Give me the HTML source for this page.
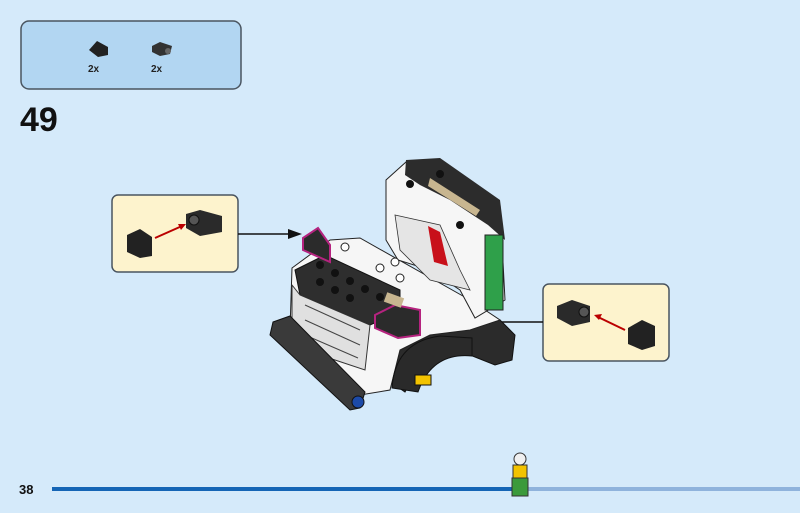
<!DOCTYPE html>
<html><head><style>
html,body{margin:0;padding:0;width:800px;height:513px;overflow:hidden;background:#d5eafa;font-family:"Liberation Sans",sans-serif}
svg{display:block}
</style></head><body>
<svg width="800" height="513" viewBox="0 0 800 513" xmlns="http://www.w3.org/2000/svg">
<rect width="800" height="513" fill="#d5eafa"/>
<rect x="21" y="21" width="220" height="68" rx="8" fill="#b2d6f2" stroke="#4a5560" stroke-width="1.5"/>
<polygon points="89,50 97,41 108,47 108,55 98,57" fill="#222"/>
<polygon points="152,46 160,42 172,46 170,54 160,56 152,52" fill="#333"/>
<circle cx="168" cy="51" r="3" fill="#666"/>
<text x="88" y="72" font-size="10" font-weight="bold" fill="#222">2x</text>
<text x="151" y="72" font-size="10" font-weight="bold" fill="#222">2x</text>
<text x="20" y="131" font-size="34" font-weight="bold" fill="#111">49</text>

<rect x="112" y="195" width="126" height="77" rx="6" fill="#fdf3cd" stroke="#4a5560" stroke-width="1.5"/>
<polygon points="127,235 140,229 152,237 152,256 140,258 127,252" fill="#222"/>
<polygon points="186,214 200,210 222,216 222,232 200,236 186,228" fill="#2a2a2a"/>
<circle cx="194" cy="220" r="5" fill="#555" stroke="#111"/>
<line x1="155" y1="238" x2="182" y2="226" stroke="#b00" stroke-width="2"/>
<polygon points="186,224 178,224 181,230" fill="#b00"/>
<line x1="238" y1="234" x2="292" y2="234" stroke="#111" stroke-width="1.5"/>
<polygon points="302,234 288,229 288,239" fill="#111"/>

<rect x="543" y="284" width="126" height="77" rx="6" fill="#fdf3cd" stroke="#4a5560" stroke-width="1.5"/>
<polygon points="557,306 572,300 590,306 590,322 572,326 557,318" fill="#2a2a2a"/>
<circle cx="584" cy="312" r="5" fill="#555" stroke="#111"/>
<polygon points="628,328 642,320 655,326 655,346 642,350 628,344" fill="#222"/>
<line x1="625" y1="330" x2="598" y2="317" stroke="#b00" stroke-width="2"/>
<polygon points="594,315 602,314 599,320" fill="#b00"/>
<line x1="543" y1="322" x2="440" y2="322" stroke="#111" stroke-width="1.5"/>
<polygon points="430,322 444,317 444,327" fill="#111"/>

<polygon points="380,330 470,320 500,320 515,335 512,360 495,365 470,355 440,350 420,365 405,392 395,385 385,360" fill="#2b2b2b" stroke="#111"/>
<polygon points="292,268 330,240 360,238 470,300 500,320 470,330 430,335 400,350 390,390 360,395 320,370 290,330" fill="#f6f6f6" stroke="#222"/>
<polygon points="386,180 406,162 440,160 500,205 505,300 475,318 460,290 430,270 398,260 386,240" fill="#f6f6f6" stroke="#222"/>
<polygon points="406,160 440,158 500,200 505,240 488,225 450,200 420,185 405,175" fill="#2c2c2c"/>
<polygon points="430,178 480,210 476,216 428,186" fill="#c8b690"/>
<polygon points="395,215 440,225 460,270 470,290 430,280 400,250" fill="#e5e5e5" stroke="#333" stroke-width="0.8"/>
<polygon points="428,226 440,232 448,266 434,262" fill="#c8101a"/>
<rect x="485" y="235" width="18" height="75" fill="#2fa04a" stroke="#222"/>
<polygon points="295,270 325,255 400,290 400,312 370,325 300,295" fill="#2e2e2e" stroke="#111"/>
<polygon points="292,285 300,295 370,325 365,370 320,355 292,330" fill="#e0e0e0" stroke="#333"/>
<g stroke="#444" stroke-width="1">
<line x1="305" y1="305" x2="360" y2="330"/><line x1="305" y1="320" x2="360" y2="345"/><line x1="305" y1="335" x2="358" y2="358"/>
</g>
<polygon points="273,322 290,316 365,392 360,408 350,410 270,335" fill="#3a3a3a" stroke="#111"/>
<circle cx="358" cy="402" r="6" fill="#1c4aa8" stroke="#111"/>
<path d="M392,388 Q395,342 440,336 L472,338 L472,356 Q432,352 418,392 Z" fill="#2a2a2a" stroke="#111"/>
<rect x="415" y="375" width="16" height="10" fill="#f3c300" stroke="#111"/>
<polygon points="303,238 318,228 330,245 330,262 303,250" fill="#2b2b2b" stroke="#b5237f" stroke-width="2"/>
<polygon points="375,315 395,305 420,310 420,335 398,338 375,328" fill="#2b2b2b" stroke="#b5237f" stroke-width="2"/>
<rect x="385" y="295" width="18" height="10" fill="#c8b690" transform="rotate(20 394 300)"/>
<g fill="#111">
<circle cx="320" cy="265" r="4"/><circle cx="335" cy="273" r="4"/><circle cx="350" cy="281" r="4"/><circle cx="365" cy="289" r="4"/><circle cx="380" cy="297" r="4"/>
<circle cx="320" cy="282" r="4"/><circle cx="335" cy="290" r="4"/><circle cx="350" cy="298" r="4"/>
<circle cx="410" cy="184" r="4"/><circle cx="440" cy="174" r="4"/><circle cx="460" cy="225" r="4"/>
</g>
<g fill="#fff" stroke="#222">
<circle cx="345" cy="247" r="4"/><circle cx="380" cy="268" r="4"/><circle cx="395" cy="262" r="4"/><circle cx="400" cy="278" r="4"/>
</g>

<text x="19" y="494" font-size="13" font-weight="bold" fill="#111">38</text>
<line x1="52" y1="489" x2="515" y2="489" stroke="#1565b5" stroke-width="4"/>
<line x1="515" y1="489" x2="800" y2="489" stroke="#8fb3dc" stroke-width="4"/>
<circle cx="520" cy="459" r="6" fill="#f0f0f0" stroke="#333"/>
<rect x="513" y="465" width="14" height="13" fill="#f3c300" stroke="#333"/>
<rect x="512" y="478" width="16" height="18" fill="#3b9a3b" stroke="#333"/>
</svg>
</body></html>
